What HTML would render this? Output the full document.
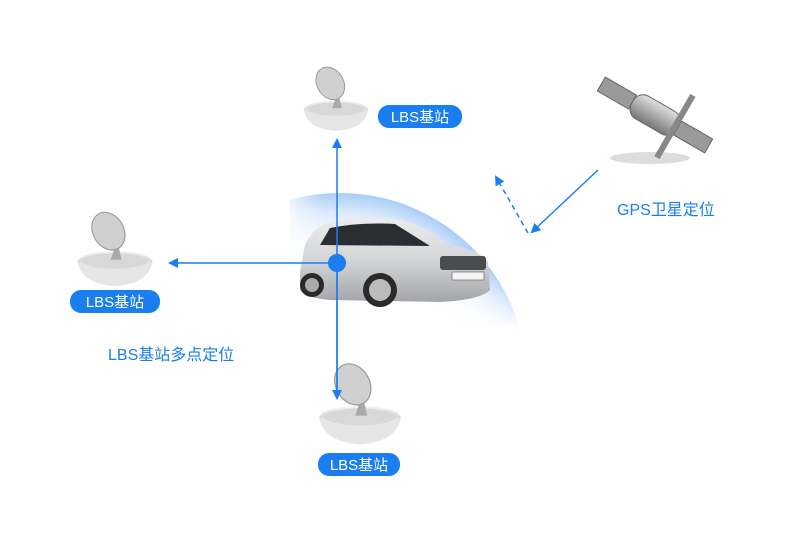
<!DOCTYPE html>
<html><head><meta charset="utf-8"><style>
html,body{margin:0;padding:0;background:#fff;width:800px;height:535px;overflow:hidden;}
svg{display:block;font-family:"Liberation Sans","Noto Sans CJK SC",sans-serif;}
</style></head><body>
<svg width="800" height="535" viewBox="0 0 800 535" xmlns="http://www.w3.org/2000/svg">
<defs>
<radialGradient id="arc" cx="340" cy="380" r="187" gradientUnits="userSpaceOnUse">
<stop offset="0.6" stop-color="#fff" stop-opacity="0"/>
<stop offset="0.9" stop-color="#dbe9fc"/>
<stop offset="1" stop-color="#a9cdf7"/>
</radialGradient>
<linearGradient id="fade" x1="0" y1="0" x2="1" y2="0">
<stop offset="0" stop-color="#fff"/><stop offset="0.35" stop-color="#fff" stop-opacity="0"/>
</linearGradient>
<linearGradient id="fadeb" x1="0" y1="0" x2="0" y2="1">
<stop offset="0.6" stop-color="#fff" stop-opacity="0"/><stop offset="1" stop-color="#fff"/>
</linearGradient>
<linearGradient id="dish" x1="0" y1="0" x2="0" y2="1">
<stop offset="0" stop-color="#f4f4f4"/><stop offset="1" stop-color="#bdbdbd"/>
</linearGradient>
<linearGradient id="car" x1="0" y1="0" x2="0" y2="1">
<stop offset="0" stop-color="#ececec"/><stop offset="0.5" stop-color="#d4d5d7"/><stop offset="1" stop-color="#a4a5a8"/>
</linearGradient>
<linearGradient id="sat" x1="0" y1="0" x2="0" y2="1">
<stop offset="0" stop-color="#e0e0e0"/><stop offset="1" stop-color="#777"/>
</linearGradient>
<clipPath id="cl"><rect x="290" y="180" width="240" height="150"/></clipPath>
<marker id="ah" markerWidth="10" markerHeight="10" refX="8" refY="5" orient="auto" markerUnits="userSpaceOnUse">
<path d="M0,0 L10,5 L0,10 Z" fill="#1a7ef0"/></marker>
<g id="bs">
<ellipse cx="0" cy="0" rx="34" ry="10" fill="url(#dish)"/>
<path d="M-34,0 Q-30,20 0,22 Q30,20 34,0 Z" fill="#e6e6e6"/>
<ellipse cx="0" cy="-1" rx="30" ry="7" fill="#d8d8d8"/>
<path d="M-4,-2 L2,-20 L6,-2 Z" fill="#aaa"/>
<ellipse cx="-6" cy="-28" rx="14" ry="18" transform="rotate(-30 -6 -28)" fill="#d0d0d0" stroke="#999"/>
</g>
</defs>
<g clip-path="url(#cl)">
<circle cx="340" cy="380" r="187" fill="url(#arc)"/>
<rect x="280" y="180" width="130" height="150" fill="url(#fade)"/>
<rect x="280" y="180" width="260" height="150" fill="url(#fadeb)"/>
</g>
<!-- car -->
<path d="M300,272 L305,245 Q312,228 330,222 Q360,216 400,220 Q425,226 448,245 Q480,250 488,262 L490,290 Q480,300 440,302 L330,300 Q305,298 300,290 Z" fill="url(#car)"/>
<path d="M320,245 L330,228 Q360,222 395,224 L430,246 Z" fill="#2a2d33"/>
<rect x="440" y="256" width="46" height="14" rx="3" fill="#4a4c50"/>
<rect x="452" y="272" width="32" height="8" fill="#f4f4f4" stroke="#555" stroke-width="0.6"/>
<circle cx="380" cy="290" r="17" fill="#2a2a2a"/><circle cx="380" cy="290" r="11" fill="#bbb"/>
<circle cx="312" cy="285" r="12" fill="#2a2a2a"/><circle cx="312" cy="285" r="7" fill="#aaa"/>
<!-- satellite -->
<ellipse cx="650" cy="158" rx="40" ry="6" fill="#ddd"/>
<g transform="translate(655,115) rotate(30)">
<rect x="-62" y="-8" width="36" height="16" fill="#9a9a9a" stroke="#666"/>
<rect x="26" y="-8" width="36" height="16" fill="#9a9a9a" stroke="#666"/>
<rect x="-26" y="-13" width="52" height="26" rx="11" fill="url(#sat)" stroke="#666"/>
<rect x="20" y="-36" width="6" height="72" fill="#888"/>
</g>
<!-- base stations -->
<use href="#bs" transform="translate(336,110) scale(0.95)"/>
<use href="#bs" transform="translate(115,262) scale(1.1)"/>
<use href="#bs" transform="translate(360,418) scale(1.2)"/>
<!-- connectors -->
<line x1="337" y1="398" x2="337" y2="140" stroke="#1a7ef0" stroke-width="1.5" marker-end="url(#ah)"/>
<line x1="337" y1="263" x2="337" y2="398" stroke="#1a7ef0" stroke-width="1.5" marker-end="url(#ah)"/>
<line x1="337" y1="263" x2="170" y2="263" stroke="#1a7ef0" stroke-width="1.5" marker-end="url(#ah)"/>
<circle cx="337" cy="263" r="9" fill="#1a7ef0"/>
<line x1="598" y1="170" x2="532" y2="232" stroke="#1a7ef0" stroke-width="1.5" marker-end="url(#ah)"/>
<line x1="528" y1="233" x2="496" y2="177" stroke="#1a7ef0" stroke-width="1.5" stroke-dasharray="5,4" marker-end="url(#ah)"/>
<!-- labels -->
<rect x="378" y="105" width="84" height="23" rx="11" fill="#1a7ef0"/>
<text x="420" y="122" fill="#fff" font-size="15" text-anchor="middle">LBS基站</text>
<rect x="70" y="290" width="90" height="23" rx="11" fill="#1a7ef0"/>
<text x="115" y="307" fill="#fff" font-size="15" text-anchor="middle">LBS基站</text>
<rect x="318" y="453" width="82" height="23" rx="11" fill="#1a7ef0"/>
<text x="359" y="470" fill="#fff" font-size="15" text-anchor="middle">LBS基站</text>
<text x="108" y="360" fill="#1a7ef0" font-size="16">LBS基站多点定位</text>
<text x="617" y="215" fill="#1a7ef0" font-size="16">GPS卫星定位</text>
</svg>
</body></html>
